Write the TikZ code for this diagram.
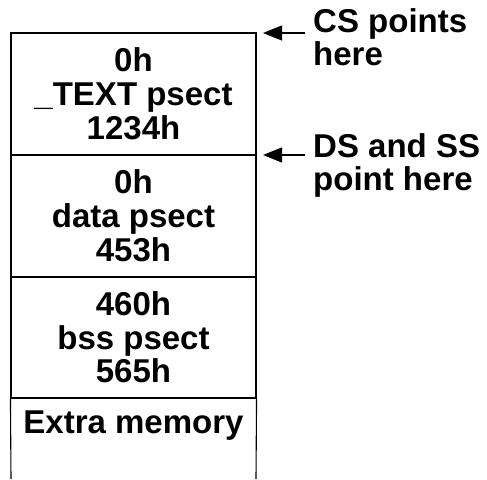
\documentclass[tikz,border=0pt]{standalone}
\usepackage{fontspec}
\setmainfont{Liberation Sans}
\usetikzlibrary{arrows.meta}
\tikzset{
  seg/.style={draw=black, line width=1.1pt, minimum width=245pt, inner sep=0pt,
    align=center, font=\bfseries\fontsize{33}{34}\selectfont},
  lab/.style={inner sep=0pt, anchor=north west, align=left,
    font=\bfseries\fontsize{33}{33}\selectfont},
  ptr/.style={line width=1.1pt, -{Triangle[length=19pt,width=15pt]}},
  side/.style={line width=1.1pt}
}
\begin{document}
\begin{tikzpicture}[x=1pt,y=-1pt]
\useasboundingbox (0,0) rectangle (487,479);
\node[seg, minimum height=122pt] (s1) at (133.5,94) {0h\\\_TEXT psect\\1234h};
\node[seg, minimum height=122pt] (s2) at (133.5,216) {0h\\data psect\\453h};
\node[seg, minimum height=121pt, font=\bfseries\fontsize{33}{33.5}\selectfont] (s3) at (133.5,337.5) {460h\\bss psect\\565h};
\node[inner sep=0pt, anchor=base, font=\bfseries\fontsize{33}{33}\selectfont] (s4) at (133.5,433) {Extra memory};
\coordinate (bl) at (11,479);
\coordinate (br) at (256,479);
\draw[side] (s3.south west) -- (bl);
\draw[side] (s3.south east) -- (br);
\node[lab] (cs) at (313,8) {CS points\\here};
\node[lab] (ds) at (313,133) {DS and SS\\point here};
\coordinate (csf) at (305,33);
\coordinate (cst) at (263,33);
\coordinate (dsf) at (305,155);
\coordinate (dst) at (263,155);
\draw[ptr] (csf) -- (cst);
\draw[ptr] (dsf) -- (dst);
\end{tikzpicture}
\end{document}
